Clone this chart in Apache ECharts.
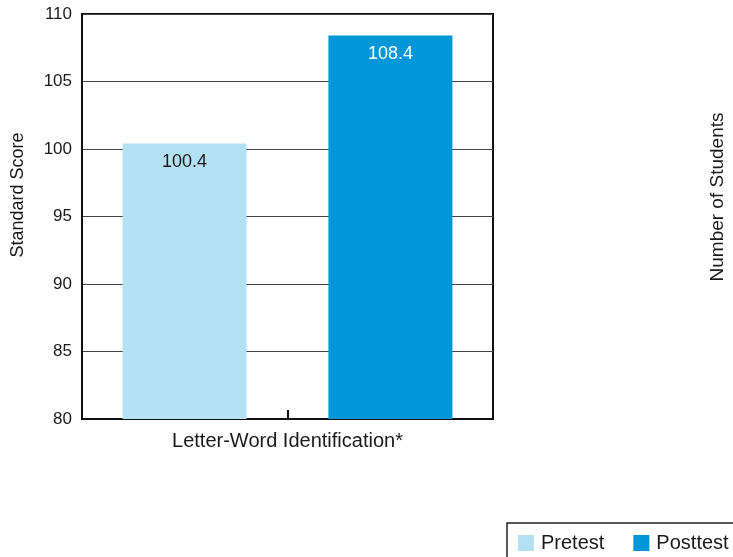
<!DOCTYPE html>
<html>
<head>
<meta charset="utf-8">
<script src="https://cdn.jsdelivr.net/npm/echarts@6/dist/echarts.min.js"></script>
<style>
  html, body { margin: 0; padding: 0; background: #fff; }
  #chart { width: 733px; height: 557px; }
</style>
</head>
<body>
<div id="chart"></div>
<script>
// Standard scores before and after the program
const categories = ['Letter-Word Identification*'];
const pretest = [100.4];
const posttest = [108.4];
const yTicks = [80, 85, 90, 95, 100, 105, 110];

const FONT = '"Liberation Sans", Arial, sans-serif';
const chart = echarts.init(document.getElementById('chart'), null, { renderer: 'canvas' });

chart.setOption({
  animation: false,
  textStyle: { fontFamily: FONT, color: '#1a1a1a' },
  grid: {
    left: 82, right: 240, top: 14, bottom: 138,
    show: true, borderColor: '#111', borderWidth: 2, backgroundColor: 'transparent'
  },
  legend: {
    left: 507, top: 523, width: 320,
    orient: 'horizontal',
    padding: [10, 20, 10, 11],
    borderColor: '#222', borderWidth: 1.5,
    itemWidth: 16, itemHeight: 16, itemGap: 29,
    icon: 'rect',
    textStyle: { fontFamily: FONT, fontSize: 20, color: '#1a1a1a', padding: [0, 0, 0, 2] },
    data: ['Pretest', 'Posttest']
  },
  graphic: [
    {
      type: 'text', x: 18, y: 195, rotation: Math.PI / 2,
      style: { text: 'Standard Score', fontFamily: FONT, fontSize: 18, fill: '#1a1a1a', align: 'center', verticalAlign: 'middle' }
    },
    {
      type: 'text', x: 718, y: 197, rotation: Math.PI / 2,
      style: { text: 'Number of Students', fontFamily: FONT, fontSize: 19, fill: '#1a1a1a', align: 'center', verticalAlign: 'middle' }
    }
  ],
  xAxis: {
    type: 'category',
    data: categories,
    axisLine: { lineStyle: { color: '#111', width: 2 } },
    axisTick: { show: true, alignWithLabel: true, inside: true, length: 9, lineStyle: { color: '#111', width: 2 } },
    axisLabel: { fontFamily: FONT, fontSize: 20, color: '#1a1a1a', margin: 12 }
  },
  yAxis: {
    type: 'value',
    min: yTicks[0], max: yTicks[yTicks.length - 1], interval: 5,
    axisLine: { show: true, lineStyle: { color: '#111', width: 2 } },
    axisTick: { show: false },
    axisLabel: { fontFamily: FONT, fontSize: 17, color: '#1a1a1a', margin: 10 },
    splitLine: { show: true, lineStyle: { color: '#444', width: 1 } }
  },
  series: [
    {
      name: 'Pretest', type: 'bar', data: pretest,
      barWidth: 124, barGap: '66%',
      itemStyle: { color: '#b3e0f3' },
      label: { show: true, position: 'insideTop', distance: 9, fontFamily: FONT, fontSize: 18, color: '#1a1a1a' }
    },
    {
      name: 'Posttest', type: 'bar', data: posttest,
      barWidth: 124,
      itemStyle: { color: '#0097d9' },
      label: { show: true, position: 'insideTop', distance: 9, fontFamily: FONT, fontSize: 18, color: '#ffffff' }
    }
  ]
});
</script>
</body>
</html>
